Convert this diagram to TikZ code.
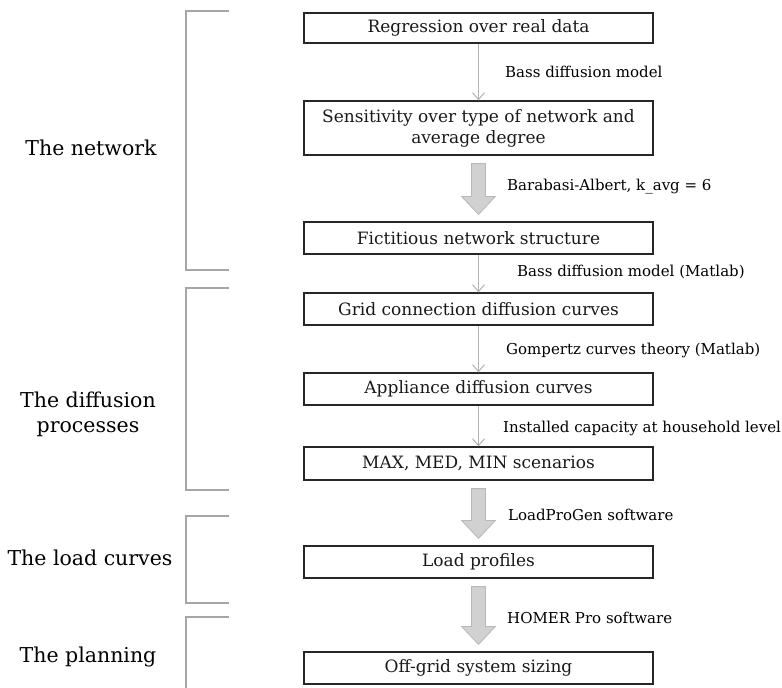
\documentclass[tikz,border=0pt]{standalone}
\usepackage{fontspec}
\setmainfont{DejaVu Serif}
\usetikzlibrary{arrows.meta,calc}
\begin{document}
\begin{tikzpicture}[x=1pt,y=-1pt,
  stepbox/.style={draw=black!85,line width=1.2pt,minimum width=349pt,inner sep=0pt,align=center,font=\fontsize{17}{21}\selectfont,text=black!90},
  thin/.style={draw=black!30,line width=1pt,-{Straight Barb[length=7pt,width=12pt]}},
  lbl/.style={anchor=west,font=\fontsize{15}{18}\selectfont,inner sep=0pt},
  side/.style={font=\fontsize{20.5}{25}\selectfont,align=center,inner sep=0pt},
  brk/.style={draw=black!35,line width=1.3pt},
  fat/.style={fill=black!18,draw=black!28,line width=0.8pt}]
\useasboundingbox (0,0) rectangle (782,688);
% boxes
\node[stepbox,minimum height=30pt] (b1) at (478.5,28) {Regression over real data};
\node[stepbox,minimum height=54pt] (b2) at (478.5,128) {Sensitivity over type of network and\\average degree};
\node[stepbox,minimum height=32pt] (b3) at (478.5,238) {Fictitious network structure};
\node[stepbox,minimum height=32pt] (b4) at (478.5,309) {Grid connection diffusion curves};
\node[stepbox,minimum height=32pt] (b5) at (478.5,389) {Appliance diffusion curves};
\node[stepbox,minimum height=33pt] (b6) at (478.5,463.5) {MAX, MED, MIN scenarios};
\node[stepbox,minimum height=32pt] (b7) at (478.5,562) {Load profiles};
\node[stepbox,minimum height=32pt] (b8) at (478.5,668) {Off-grid system sizing};
% thin arrows
\draw[thin] (b1) -- (b2);
\draw[thin] (b3) -- (b4);
\draw[thin] (b4) -- (b5);
\draw[thin] (b5) -- (b6);
% fat arrows
\foreach \a/\b in {b2/b3,b6/b7,b7/b8}{
  \path ($(\a.south)+(0,8)$) coordinate (s) ($(\b.north)+(0,-7)$) coordinate (e);
  \draw[fat] ($(s)+(-7,0)$) -- ($(s)+(7,0)$) -- ($(e)+(7,-18)$) -- ($(e)+(17,-18)$) -- (e) -- ($(e)+(-17,-18)$) -- ($(e)+(-7,-18)$) -- cycle;
}
% labels
\node[lbl] (l1) at (505,72) {Bass diffusion model};
\node[lbl] (l2) at (507,187) {Barabasi-Albert, k\_avg = 6};
\node[lbl] (l3) at (517,272) {Bass diffusion model (Matlab)};
\node[lbl] (l4) at (506,350) {Gompertz curves theory (Matlab)};
\node[lbl] (l5) at (503,428) {Installed capacity at household level};
\node[lbl] (l6) at (508,515) {LoadProGen software};
\node[lbl] (l7) at (507,618) {HOMER Pro software};
% brackets
\draw[brk] (229,11) -- (186,11) -- (186,270) -- (229,270);
\draw[brk] (229,288) -- (186,288) -- (186,490) -- (229,490);
\draw[brk] (229,516) -- (186,516) -- (186,603) -- (229,603);
\draw[brk] (229,617) -- (186,617) -- (186,688);
% side labels
\node[side] (s1) at (91,148) {The network};
\node[side] (s2) at (88,414) {The diffusion\\processes};
\node[side] (s3) at (90,558) {The load curves};
\node[side] (s4) at (88,657) {The planning};
\end{tikzpicture}
\end{document}
